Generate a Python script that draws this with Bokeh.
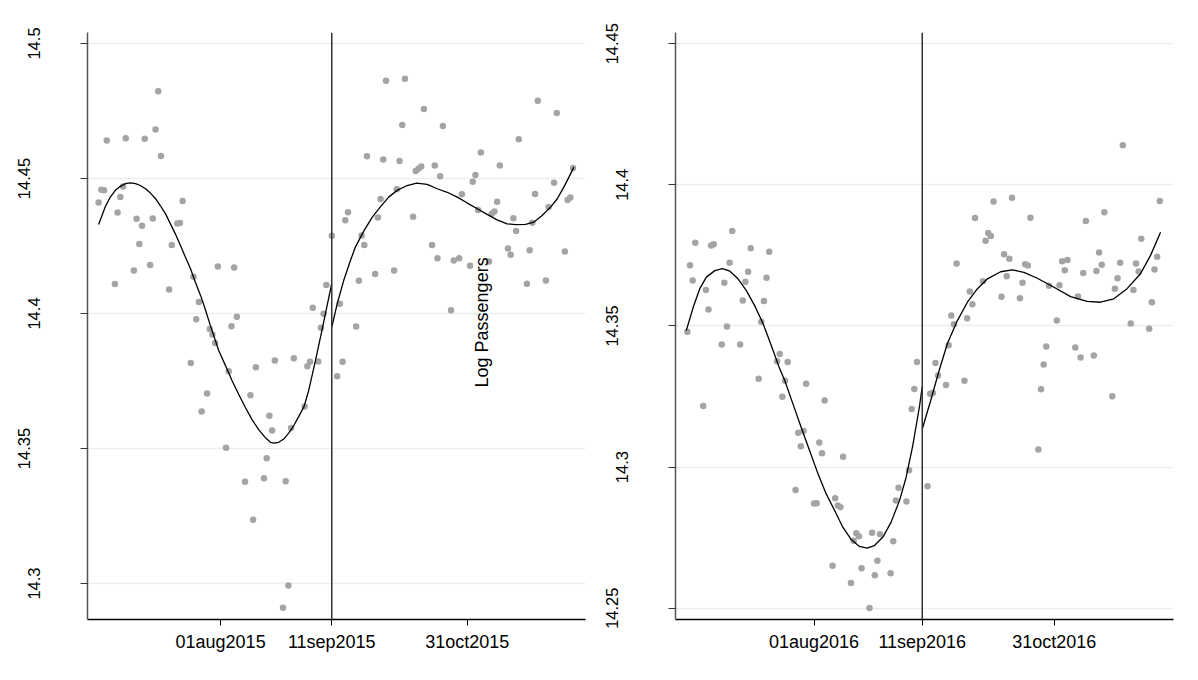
import math
from bokeh.plotting import figure
from bokeh.layouts import row
from bokeh.models import FixedTicker, LinearAxis, Span, Label, Range1d
from bokeh.embed import file_html
from bokeh.resources import INLINE

FONT = "Liberation Sans"

# ---------------- data: days relative to 11 Sep, log passengers ----------------
days_2015 = [-86, -85, -84, -83, -80, -79, -78, -77, -76, -73, -72, -71, -70, -69,
             -67, -66, -65, -64, -63, -60, -59, -57, -56, -55, -52, -51, -50, -49, -48,
             -46, -45, -44, -43, -42, -39, -38, -37, -36, -35, -32, -30, -29, -28,
             -25, -24, -23, -22, -21, -18, -17, -16, -15, -14, -10, -9, -8, -7,
             -5, -4, -3, -2,
             0, 2, 3, 4, 5, 6, 9, 10, 11, 12, 13, 16, 17, 18, 19, 20, 23, 24, 25, 26, 27,
             30, 31, 32, 33, 34, 37, 38, 39, 40, 41, 44, 45, 47, 48, 51, 52, 53, 54, 55,
             58, 59, 60, 61, 62, 65, 66, 67, 68, 69, 72, 73, 74, 75, 76, 79, 80, 82, 83,
             86, 87, 88, 89]
logpax_2015 = [14.4411, 14.4458, 14.4456, 14.4641, 14.4109, 14.4374, 14.4431, 14.4470, 14.4649,
               14.4159, 14.4351, 14.4257, 14.4325, 14.4647, 14.4180, 14.4352, 14.4681, 14.4823,
               14.4583, 14.4089, 14.4254, 14.4333, 14.4335, 14.4417, 14.3817, 14.4136, 14.3979,
               14.4043, 14.3637, 14.3704, 14.3943, 14.3922, 14.3891, 14.4174, 14.3503, 14.3786,
               14.3953, 14.4170, 14.3988, 14.3377, 14.3697, 14.3236, 14.3801, 14.3390, 14.3464,
               14.3621, 14.3567, 14.3826, 14.2910, 14.3379, 14.2993, 14.3576, 14.3834, 14.3656,
               14.3805, 14.3821, 14.4021, 14.3822, 14.3947, 14.3999, 14.4106,
               14.4288, 14.3768, 14.4036, 14.3821, 14.4345, 14.4375, 14.3952, 14.4121, 14.4289,
               14.4254, 14.4582, 14.4146, 14.4356, 14.4424, 14.4570, 14.4862, 14.4159, 14.4460,
               14.4565, 14.4698, 14.4869, 14.4358, 14.4528, 14.4536, 14.4544, 14.4757, 14.4254,
               14.4548, 14.4205, 14.4508, 14.4694, 14.4012, 14.4196, 14.4205, 14.4442, 14.4177,
               14.4488, 14.4513, 14.4383, 14.4596, 14.4193, 14.4369, 14.4378, 14.4414, 14.4548,
               14.4241, 14.4218, 14.4353, 14.4306, 14.4645, 14.4110, 14.4234, 14.4336, 14.4443,
               14.4788, 14.4122, 14.4394, 14.4484, 14.4743, 14.4230, 14.4420, 14.4430, 14.4539]

fit_pre_days_2015 = [-86.0, -83.5, -81.7, -79.8, -78.0, -76.1, -74.3, -72.4, -70.6, -68.7, -66.9,
                     -65.0, -63.2, -61.3, -59.5, -57.7, -55.8, -54.0, -52.1, -50.3, -48.4, -46.6,
                     -44.8, -41.7, -39.2, -36.8, -34.3, -31.8, -29.4, -26.9, -24.5, -22.6, -21.4,
                     -19.6, -17.7, -15.9, -14.0, -12.2, -10.2, -8.5, -6.0, -3.5, -1.7, 0.0]
fit_pre_vals_2015 = [14.4330, 14.4396, 14.4431, 14.4456, 14.4471, 14.4481, 14.4484, 14.4481, 14.4474,
                     14.4462, 14.4446, 14.4425, 14.4399, 14.4369, 14.4332, 14.4295, 14.4252, 14.4209,
                     14.4166, 14.4116, 14.4067, 14.4014, 14.3956, 14.3863, 14.3807, 14.3752, 14.3700,
                     14.3651, 14.3607, 14.3569, 14.3540, 14.3523, 14.3520, 14.3523, 14.3535, 14.3557,
                     14.3585, 14.3618, 14.3656, 14.3715, 14.3826, 14.3943, 14.4030, 14.4112]
fit_post_days_2015 = [0.0, 2.0, 4.4, 6.9, 8.7, 11.8, 14.9, 18.0, 21.0, 24.1, 27.8, 31.3, 35.2, 38.9,
                      42.6, 46.3, 50.0, 53.7, 57.3, 61.0, 64.7, 67.8, 71.5, 74.5, 77.6, 80.7, 83.2,
                      85.6, 87.5, 89.3]
fit_post_vals_2015 = [14.3949, 14.4036, 14.4122, 14.4196, 14.4246, 14.4305, 14.4356, 14.4396, 14.4431,
                      14.4456, 14.4474, 14.4483, 14.4478, 14.4462, 14.4449, 14.4431, 14.4409, 14.4388,
                      14.4367, 14.4347, 14.4332, 14.4329, 14.4330, 14.4338, 14.4363, 14.4394, 14.4425,
                      14.4468, 14.4505, 14.4542]

days_2016 = [-89, -88, -87, -86, -83, -82, -81, -80, -79, -76, -75, -74, -73, -72,
             -69, -68, -67, -66, -65, -62, -61, -60, -59, -58, -55, -54, -53, -52, -51,
             -48, -47, -46, -45, -44, -41, -40, -39, -38, -37, -34, -33, -32, -31, -30,
             -27, -26, -25, -24, -23, -20, -19, -18, -17, -16, -12, -11, -10, -9,
             -6, -5, -4, -3, -2,
             2, 3, 4, 5, 6, 9, 10, 11, 12, 13, 16, 17, 18, 19, 20, 23, 24, 25, 26, 27,
             30, 31, 32, 33, 34, 37, 38, 39, 40, 41, 44, 45, 46, 47, 48, 51, 52, 53, 54, 55,
             58, 59, 60, 61, 62, 65, 66, 67, 68, 69, 72, 73, 74, 75, 76, 79, 80, 81, 82, 83,
             86, 87, 88, 89, 90]
logpax_2016 = [14.3479, 14.3715, 14.3661, 14.3795, 14.3216, 14.3627, 14.3558, 14.3785, 14.3789,
               14.3434, 14.3653, 14.3498, 14.3724, 14.3836, 14.3434, 14.3590, 14.3657, 14.3692,
               14.3775, 14.3313, 14.3515, 14.3588, 14.3671, 14.3763, 14.3375, 14.3401, 14.3249,
               14.3306, 14.3372, 14.2919, 14.3122, 14.3074, 14.3128, 14.3295, 14.2871, 14.2872,
               14.3087, 14.3049, 14.3236, 14.2650, 14.2890, 14.2864, 14.2858, 14.3037, 14.2589,
               14.2739, 14.2766, 14.2755, 14.2642, 14.2501, 14.2767, 14.2617, 14.2668, 14.2762,
               14.2624, 14.2737, 14.2882, 14.2927, 14.2878, 14.2989, 14.3206, 14.3277, 14.3372,
               14.2932, 14.3260, 14.3262, 14.3369, 14.3324, 14.3291, 14.3432, 14.3537, 14.3506,
               14.3721, 14.3306, 14.3527, 14.3622, 14.3577, 14.3882, 14.3658, 14.3802, 14.3829,
               14.3819, 14.3941, 14.3603, 14.3754, 14.3676, 14.3738, 14.3954, 14.3598, 14.3653,
               14.3719, 14.3714, 14.3883, 14.3062, 14.3276, 14.3363, 14.3427, 14.3642, 14.3519,
               14.3644, 14.3729, 14.3697, 14.3734, 14.3424, 14.3604, 14.3388, 14.3688, 14.3872,
               14.3395, 14.3695, 14.3760, 14.3717, 14.3903, 14.3251, 14.3632, 14.3669, 14.3724,
               14.4140, 14.3509, 14.3627, 14.3721, 14.3693, 14.3809, 14.3490, 14.3584, 14.3700,
               14.3745, 14.3943]

fit_pre_days_2016 = [-89.4, -86.8, -84.3, -81.8, -78.6, -75.7, -72.9, -69.8, -66.7, -63.5, -60.3,
                     -57.2, -54.0, -52.1, -49.0, -45.9, -42.7, -39.5, -36.4, -33.2, -30.1, -26.9,
                     -23.8, -20.9, -18.1, -14.9, -11.8, -8.6, -6.1, -3.6, -1.1, 0.0]
fit_pre_vals_2016 = [14.3484, 14.3566, 14.3632, 14.3673, 14.3696, 14.3703, 14.3694, 14.3667, 14.3626,
                     14.3572, 14.3508, 14.3431, 14.3348, 14.3307, 14.3224, 14.3141, 14.3059, 14.2976,
                     14.2905, 14.2846, 14.2787, 14.2743, 14.2719, 14.2713, 14.2722, 14.2752, 14.2805,
                     14.2882, 14.2964, 14.3076, 14.3212, 14.3285]
fit_post_days_2016 = [0.0, 3.2, 6.4, 9.5, 13.3, 17.1, 20.9, 24.7, 29.7, 34.1, 38.5, 43.6, 49.9, 56.2,
                      62.5, 67.5, 72.6, 77.6, 82.7, 86.5, 90.3]
fit_post_vals_2016 = [14.3135, 14.3236, 14.3342, 14.3437, 14.3519, 14.3584, 14.3632, 14.3667, 14.3692,
                      14.3699, 14.3690, 14.3669, 14.3637, 14.3604, 14.3587, 14.3584, 14.3596, 14.3632,
                      14.3685, 14.3750, 14.3832]

x_tick_days = [-41, 0, 50]
x_tick_labels_2015 = ["01aug2015", "11sep2015", "31oct2015"]
x_tick_labels_2016 = ["01aug2016", "11sep2016", "31oct2016"]
y_ticks_2015 = [14.3, 14.35, 14.4, 14.45, 14.5]
y_tick_labels_2015 = ["14.3", "14.35", "14.4", "14.45", "14.5"]
y_inner_2015 = [0, 2, 4]
y_ticks_2016 = [14.25, 14.3, 14.35, 14.4, 14.45]
y_tick_labels_2016 = ["14.25", "14.3", "14.35", "14.4", "14.45"]
y_inner_2016 = [1, 3]
y_title = "Log Passengers"
y_title_pos = (55.6, 14.3967)


def build(days, vals, pre_d, pre_v, post_d, post_v, xr, yr, yticks, ylabels, inner,
          xlabels, width, bl, br):
    p = figure(width=width, height=670, x_range=Range1d(*xr), y_range=Range1d(*yr),
               output_backend="svg", toolbar_location=None,
               min_border_left=bl, min_border_right=br, min_border_top=32, min_border_bottom=51)
    p.outline_line_color = None
    p.background_fill_color = "white"
    p.border_fill_color = "white"
    p.xgrid.visible = False
    p.ygrid.ticker = FixedTicker(ticks=yticks)
    p.ygrid.grid_line_color = "#e6eff1"
    p.ygrid.grid_line_width = 1.5

    xa = p.xaxis[0]
    xa.ticker = FixedTicker(ticks=x_tick_days)
    xa.major_label_overrides = {d: lab for d, lab in zip(x_tick_days, xlabels)}
    xa.axis_line_color = "black"
    xa.axis_line_width = 1.5
    xa.major_tick_line_color = "black"
    xa.major_tick_in = 0
    xa.major_tick_out = 6
    xa.minor_tick_line_color = None
    xa.major_label_standoff = 6
    xa.major_label_text_font = FONT
    xa.major_label_text_font_size = "18px"
    xa.major_label_text_color = "black"

    ya = p.yaxis[0]
    ya.ticker = FixedTicker(ticks=yticks)
    ya.major_label_overrides = {t: (lab if i in inner else "")
                                for i, (t, lab) in enumerate(zip(yticks, ylabels))}
    ya.major_label_orientation = "vertical"
    ya.axis_line_color = "#555555"
    ya.axis_line_width = 1.5
    ya.major_tick_line_color = "#333333"
    ya.major_tick_in = 0
    ya.major_tick_out = 7
    ya.minor_tick_line_color = None
    ya.major_label_standoff = 40
    ya.major_label_text_font = FONT
    ya.major_label_text_font_size = "16.5px"
    ya.major_label_text_color = "black"

    oa = LinearAxis(ticker=FixedTicker(ticks=yticks),
                    major_label_overrides={t: (lab if i not in inner else "")
                                           for i, (t, lab) in enumerate(zip(yticks, ylabels))},
                    axis_line_color=None, major_tick_line_color=None, minor_tick_line_color=None,
                    major_tick_in=0, major_tick_out=0, major_label_orientation="vertical",
                    major_label_standoff=-5, major_label_text_font=FONT,
                    major_label_text_font_size="16.5px", major_label_text_color="black")
    p.add_layout(oa, "left")

    p.scatter(days, vals, size=6.5, fill_color="#a4a4a4", line_color=None)
    p.line(pre_d, pre_v, line_color="black", line_width=1.3)
    p.line(post_d, post_v, line_color="black", line_width=1.3)
    p.add_layout(Span(location=0, dimension="height", line_color="#333333", line_width=1.5))
    return p


p1 = build(days_2015, logpax_2015, fit_pre_days_2015, fit_pre_vals_2015,
           fit_post_days_2015, fit_post_vals_2015, (-90.1, 93.6), (14.28667, 14.50407),
           y_ticks_2015, y_tick_labels_2015, y_inner_2015, x_tick_labels_2015, 598, 87, 13)
p1.add_layout(Label(x=y_title_pos[0], y=y_title_pos[1], text=y_title, angle=math.pi / 2,
                    text_align="center", text_baseline="middle", text_font=FONT,
                    text_font_size="18px", text_color="black"))

p2 = build(days_2016, logpax_2016, fit_pre_days_2016, fit_pre_vals_2016,
           fit_post_days_2016, fit_post_vals_2016, (-93.5, 95.2), (14.2460, 14.45396),
           y_ticks_2016, y_tick_labels_2016, y_inner_2016, x_tick_labels_2016, 587, 77, 12)

layout = row(p1, p2)
open("out.html", "w").write(file_html(layout, INLINE))
